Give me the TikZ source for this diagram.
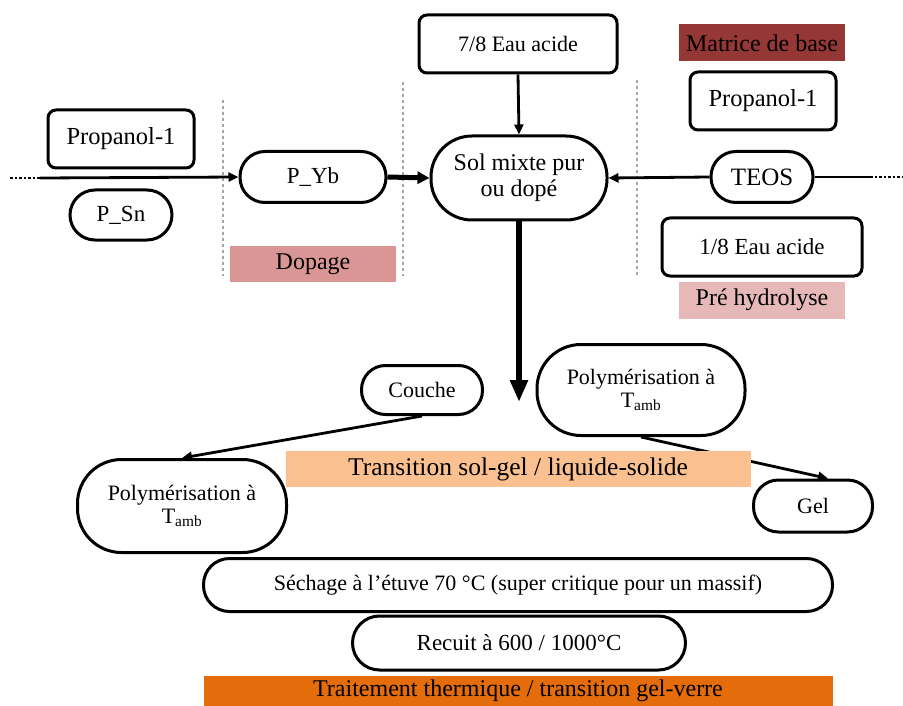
\documentclass[tikz,border=0pt]{standalone}
\usepackage{fontspec}
\setmainfont{Liberation Serif}
\usetikzlibrary{arrows.meta}
\begin{document}
\begin{tikzpicture}[x=1pt,y=-1pt,
  txt/.style={font=\rmfamily\fontsize{23}{24}\selectfont},
  small/.style={font=\rmfamily\fontsize{22}{23}\selectfont},
  box/.style={txt,draw,line width=3pt,rounded corners=8pt,inner sep=0pt,align=center},
  pill/.style={txt,draw,line width=3pt,inner sep=0pt,align=center},
  band/.style={font=\rmfamily\fontsize{24}{25}\selectfont,inner sep=0pt,align=center},
  sep/.style={draw=gray!70,dashed,line width=1.2pt},
  arr/.style={line width=2.8pt,-{Triangle[length=10pt,width=9pt]}},
  bigarr/.style={line width=5pt,-{Triangle[length=12pt,width=12pt]}},
  hugearr/.style={line width=6.5pt,-{Triangle[length=22pt,width=17pt]}}]
\useasboundingbox (0,0) rectangle (903,706);
\definecolor{matrice}{HTML}{953735}
\definecolor{dopage}{HTML}{D99694}
\definecolor{prehyd}{HTML}{E6B9B8}
\definecolor{solgel}{HTML}{FAC090}
\definecolor{thermo}{HTML}{E46C0A}

% dashed separators
\draw[sep] (223,100) -- (223,276);
\draw[sep] (403,82) -- (403,276);
\draw[sep] (637,80) -- (637,276);

% upper nodes
\node[box,small,minimum width=198pt,minimum height=58pt] (eau78) at (518,44) {7/8 Eau acide};
\node[band,fill=matrice,minimum width=166pt,minimum height=37pt] (matrice) at (762,43) {Matrice de base};
\node[box,font=\rmfamily\fontsize{24.5}{25}\selectfont,minimum width=146pt,minimum height=58pt] (propR) at (763,101) {Propanol-1};
\node[pill,font=\rmfamily\fontsize{25}{26}\selectfont,rounded corners=25pt,minimum width=102pt,minimum height=51pt] (teos) at (762,177) {TEOS};
\node[box,minimum width=200pt,minimum height=58pt] (eau18) at (762,247) {1/8 Eau acide};
\node[band,fill=prehyd,minimum width=166pt,minimum height=37pt] (prehyd) at (762,300) {Pré hydrolyse};
\node[pill,font=\rmfamily\fontsize{24}{26}\selectfont,rounded corners=41pt,minimum width=176pt,minimum height=84pt] (sol) at (519,178) {Sol mixte pur\\ou dopé};

\node[box,font=\rmfamily\fontsize{24.5}{25}\selectfont,minimum width=146pt,minimum height=58pt] (propL) at (121,139) {Propanol-1};
\node[pill,rounded corners=25pt,minimum width=102pt,minimum height=50pt] (psn) at (121,215) {P\_Sn};
\node[pill,rounded corners=25pt,minimum width=146pt,minimum height=51pt] (pyb) at (313,177) {P\_Yb};
\node[band,fill=dopage,minimum width=166pt,minimum height=36pt] (dopage) at (313,264) {Dopage};

% feed lines
\coordinate (lfar) at (10,178);
\coordinate (lnear) at (40,178);
\coordinate (rfar) at (903,177);
\coordinate (rnear) at (870,177);
\draw[line width=2.5pt,dotted] (lfar) -- (lnear);
\draw[arr] (lnear) -- (pyb.west);
\draw[line width=2.5pt,dotted] (rnear) -- (rfar);
\draw[line width=2.8pt] (teos.east) -- (rnear);
\draw[arr] (teos.west) -- (sol.east);
\draw[bigarr] (pyb.east) -- (sol.west);
\draw[arr] (eau78.south) -- (sol.north);

% lower stage
\coordinate (solend) at (519,402);
\draw[hugearr] (sol.south) -- (solend);
\node[pill,small,rounded corners=24pt,minimum width=121pt,minimum height=49pt] (couche) at (422,390) {Couche};
\node[pill,small,rounded corners=44pt,minimum width=208pt,minimum height=91pt] (polyR) at (641,390) {Polymérisation à\\T\textsubscript{amb}};
\node[pill,small,rounded corners=44pt,minimum width=209pt,minimum height=93pt] (polyL) at (182,506) {Polymérisation à\\T\textsubscript{amb}};
\node[pill,small,rounded corners=25pt,minimum width=119pt,minimum height=52pt] (gel) at (813,506) {Gel};
\draw[arr] (couche.south) -- (polyL.north);
\draw[arr] (polyR.south) -- ([xshift=15pt]gel.north);
\node[band,font=\rmfamily\fontsize{25.5}{26}\selectfont,fill=solgel,minimum width=465pt,minimum height=36pt] (transition) at (518,469) {Transition sol-gel / liquide-solide};

\node[pill,small,rounded corners=26pt,minimum width=629pt,minimum height=53pt] (sechage) at (518,585) {Séchage à l’étuve 70 °C (super critique pour un massif)};
\node[pill,rounded corners=27pt,minimum width=333pt,minimum height=54pt] (recuit) at (519,643) {Recuit à 600 / 1000°C};
\node[band,fill=thermo,minimum width=629pt,minimum height=30pt] (thermo) at (518,691) {Traitement thermique / transition gel-verre};
\end{tikzpicture}
\end{document}
